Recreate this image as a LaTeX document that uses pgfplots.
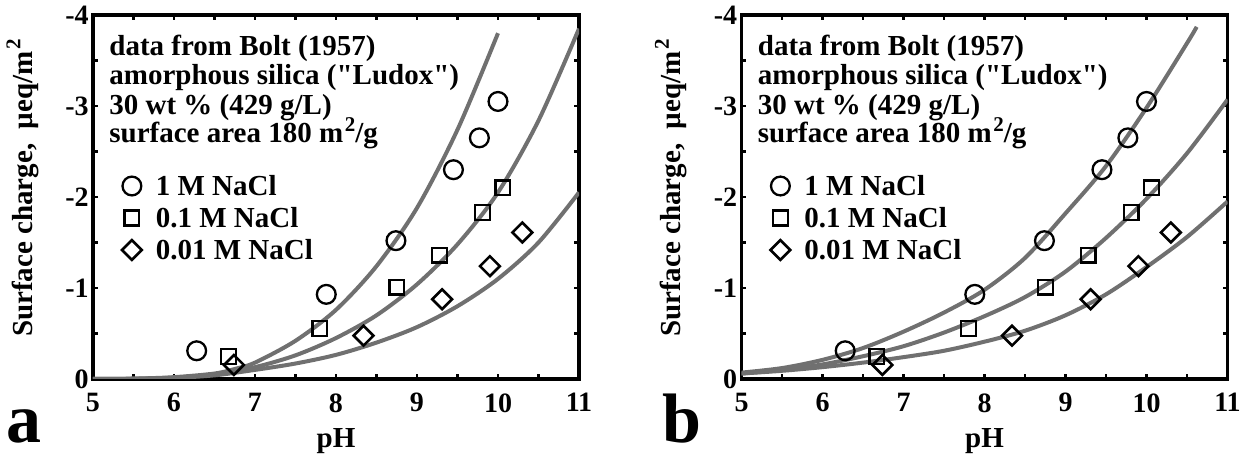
\documentclass[border=0pt]{standalone}
\usepackage{fontspec}
\setmainfont{Liberation Serif}
\newfontfamily\rawserif{Liberation Serif}
\usepackage{pgfplots}
\pgfplotsset{compat=1.18}
\definecolor{crv}{RGB}{112,112,112}
\newcommand\bigfont{\fontsize{14.5}{14.5}\selectfont\bfseries}
\newcommand\tickfont{\fontsize{14}{14}\selectfont\bfseries}
\newcommand\q{{\rawserif\bfseries"}}
\newcommand\sq{\hspace{0.8pt}\raisebox{0.4em}{\fontsize{10.5}{10.5}\selectfont\bfseries 2}}
\pgfplotsset{
  mylegimg/.style={legend image code/.code={\draw[##1] plot coordinates {(0pt,4.5pt)};}},
  panel/.style={
    scale only axis, width=243pt, height=182pt, anchor=center,
    xmin=5, xmax=11, ymin=-4, ymax=0, y dir=reverse,
    xtick={5,6,7,8,9,10,11}, xticklabels={5,6,7,8,9,10,11},
    ytick={0,-1,-2,-3,-4}, yticklabels={0,-1,-2,-3,-4},
    minor x tick num=1, minor y tick num=1,
    tick align=inside, major tick length=2.4pt, minor tick length=2.4pt,
    every tick/.style={black, line width=1.3pt},
    axis line style={line width=1.8pt},
    ticklabel style={font=\tickfont},
    xticklabel style={anchor=north, inner sep=0pt, yshift=-7pt},
    yticklabel style={anchor=east, inner sep=0pt, xshift=-2pt},
    xlabel={pH},
    ylabel={Surface charge,\ \ µeq/m\sq},
    label style={font=\bigfont},
    xlabel style={at={(axis description cs:0.5,-0.18956)}, anchor=base},
    ylabel style={at={(axis description cs:-0.12551,0.52473)}, anchor=base},
    mylegimg,
    legend style={
      at={(axis description cs:0,1)}, anchor=north west,
      xshift=14.5pt, yshift=-80pt,
      draw=none, fill=none, inner sep=0pt, outer sep=0pt,
      row sep=0pt, column sep=7pt, font=\bigfont,
      nodes={inner sep=0pt, text height=10pt, text depth=6pt, anchor=base west},
    },
    curve/.style={crv, line width=2pt, smooth, no marks, forget plot},
    pts/.style={only marks, mark options={draw=black, line width=1.15pt, solid, fill=none}},
  }
}
\newcommand\infotext{%
  \node[anchor=base west, font=\bigfont, inner sep=0pt] at (axis description cs:0.0329,0.8874) {data from Bolt (1957)};
  \node[anchor=base west, font=\bigfont, inner sep=0pt] at (axis description cs:0.0329,0.8077) {amorphous silica (\q Ludox\q)};
  \node[anchor=base west, font=\bigfont, inner sep=0pt] at (axis description cs:0.0329,0.7280) {30 wt \% (429 g/L)};
  \node[anchor=base west, font=\bigfont, inner sep=0pt] at (axis description cs:0.0329,0.6484) {surface area 180 m\sq/g};
}
\newcommand\datapoints{%
  \addplot[pts, mark=o, mark size=4.7pt] coordinates {(6.28,-0.31) (7.88,-0.93) (8.74,-1.52) (9.45,-2.30) (9.77,-2.65) (10.00,-3.05)};
  \addlegendentry{1 M NaCl}
  \addplot[pts, mark=square, mark size=3.7pt] coordinates {(6.67,-0.245) (7.80,-0.557) (8.75,-1.01) (9.28,-1.36) (9.81,-1.83) (10.06,-2.10)};
  \addlegendentry{0.1 M NaCl}
  \addplot[pts, mark=square, mark size=3.5pt, mark options={rotate=45, line width=1.3pt}] coordinates {(6.74,-0.154) (8.34,-0.476) (9.31,-0.876) (9.90,-1.24) (10.30,-1.61)};
  \addlegendentry{0.01 M NaCl}
}
\begin{document}
\begin{tikzpicture}
\path[use as bounding box] (0,0) rectangle (630pt,229.5pt);
\begin{axis}[panel, at={(168pt,131pt)}]
  \addplot[curve] coordinates {(5,0) (5.5,-0.004) (6,-0.02) (6.5,-0.06) (6.75,-0.11) (7,-0.18) (7.5,-0.42) (8,-0.76) (8.5,-1.24) (9,-1.88) (9.5,-2.74) (10,-3.80)};
  \addplot[curve] coordinates {(5,0) (5.5,-0.003) (6,-0.015) (6.5,-0.05) (7,-0.13) (7.5,-0.26) (8,-0.45) (8.5,-0.70) (9,-1.04) (9.5,-1.48) (10,-2.05) (10.5,-2.84) (11,-3.85)};
  \addplot[curve] coordinates {(5,0) (5.5,-0.003) (6,-0.012) (6.5,-0.04) (7,-0.10) (7.5,-0.17) (8,-0.265) (8.5,-0.40) (9,-0.57) (9.5,-0.80) (10,-1.10) (10.5,-1.50) (11,-2.05)};
  \datapoints
  \infotext
\end{axis}
\begin{axis}[panel, at={(492.25pt,131pt)}]
  \addplot[curve] coordinates {(5,-0.07) (5.5,-0.12) (6,-0.21) (6.5,-0.34) (7,-0.52) (7.5,-0.73) (8,-0.98) (8.5,-1.33) (9,-1.82) (9.5,-2.34) (10,-2.98) (10.5,-3.69) (10.62,-3.87)};
  \addplot[curve] coordinates {(5,-0.06) (5.5,-0.10) (6,-0.16) (6.5,-0.25) (7,-0.36) (7.5,-0.51) (8,-0.69) (8.5,-0.90) (9,-1.18) (9.5,-1.55) (10,-1.98) (10.5,-2.48) (11,-3.07)};
  \addplot[curve] coordinates {(5,-0.06) (5.5,-0.09) (6,-0.13) (6.5,-0.18) (7,-0.24) (7.5,-0.31) (8,-0.41) (8.5,-0.53) (9,-0.70) (9.5,-0.93) (10,-1.23) (10.5,-1.56) (11,-1.95)};
  \datapoints
  \infotext
\end{axis}
\node[anchor=base west, inner sep=0pt, font=\fontsize{35}{35}\selectfont\bfseries] at (3pt,8pt) {a};
\node[anchor=base west, inner sep=0pt, font=\fontsize{35}{35}\selectfont\bfseries] at (331pt,8pt) {b};
\end{tikzpicture}
\end{document}
